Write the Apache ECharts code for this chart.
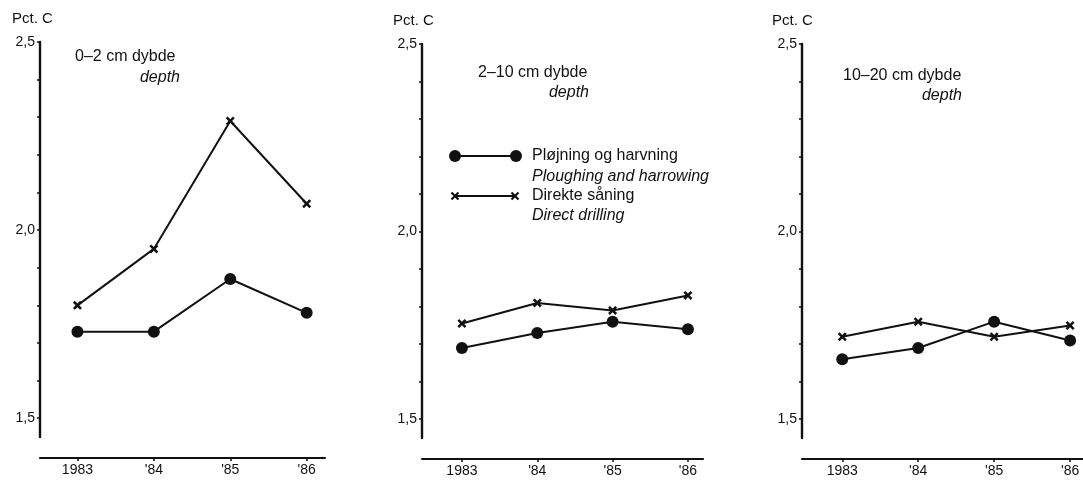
<!DOCTYPE html>
<html lang="da">
<head>
<meta charset="UTF-8">
<title>Pct. C</title>
<script src="https://cdn.jsdelivr.net/npm/echarts@6/dist/echarts.min.js"></script>
<style>
  html, body { margin: 0; padding: 0; background: #fff; }
  #main { width: 1083px; height: 483px; }
</style>
</head>
<body>
<div id="main"></div>
<script>
// data
var years = [1983, 1984, 1985, 1986];
var yearLabels = ['1983', "'84", "'85", "'86"];
var yLabels = [1.5, 2.0, 2.5];
var yTicks = [1.5, 1.6, 1.7, 1.8, 1.9, 2.0, 2.1, 2.2, 2.3, 2.4, 2.5];
var panelTitles = ['0\u20132 cm dybde', '2\u201310 cm dybde', '10\u201320 cm dybde'];

// Pløjning og harvning (dots)
var plough0_2 = [1.73, 1.73, 1.87, 1.78];
var plough2_10 = [1.69, 1.73, 1.76, 1.74];
var plough10_20 = [1.66, 1.69, 1.76, 1.71];
// Direkte såning (crosses)
var direct0_2 = [1.80, 1.95, 2.29, 2.07];
var direct2_10 = [1.755, 1.81, 1.79, 1.83];
var direct10_20 = [1.72, 1.76, 1.72, 1.75];

var ploughSets = [plough0_2, plough2_10, plough10_20];
var directSets = [direct0_2, direct2_10, direct10_20];

var ink = '#111';
var font = '"Liberation Sans", Arial, Helvetica, sans-serif';
var crossPath = 'path://M0,2 L2,0 L5,3 L8,0 L10,2 L7,5 L10,8 L8,10 L5,7 L2,10 L0,8 L3,5 Z';

// grid boxes (px)
var grids = [
  { left: 40, right: 758, top: 42, bottom: 46 },
  { left: 422, right: 380, top: 44, bottom: 45 },
  { left: 802, right: 0, top: 44, bottom: 45 }
];
var xRanges = [[1982.51, 1986.24], [1982.47, 1986.2], [1982.47, 1986.17]];

function pairs(arr) {
  return arr.map(function (v, i) { return [years[i], v]; });
}

var xAxes = [], yAxes = [], series = [];
for (var i = 0; i < 3; i++) {
  xAxes.push({
    type: 'value', gridIndex: i,
    min: xRanges[i][0], max: xRanges[i][1],
    offset: 21,
    splitLine: { show: false },
    axisLine: { lineStyle: { color: ink, width: 2.2 } },
    axisTick: { customValues: years, length: 3, lineStyle: { color: ink, width: 1.5 } },
    axisLabel: {
      customValues: years, color: ink, fontFamily: font, fontSize: 14, margin: 5,
      formatter: function (v) { return yearLabels[years.indexOf(Math.round(v))]; }
    }
  });
  yAxes.push({
    type: 'value', gridIndex: i,
    min: 1.45, max: 2.5,
    splitLine: { show: false },
    axisLine: { show: true, lineStyle: { color: ink, width: 2.4 } },
    axisTick: { customValues: yTicks, length: 3, lineStyle: { color: ink, width: 1.5 } },
    axisLabel: {
      customValues: yLabels, color: ink, fontFamily: font, fontSize: 14, margin: 5,
      formatter: function (v) { return v.toFixed(1).replace('.', ','); }
    }
  });
  series.push({
    name: 'Pløjning og harvning', type: 'line', xAxisIndex: i, yAxisIndex: i,
    data: pairs(ploughSets[i]),
    symbol: 'circle', symbolSize: 12,
    lineStyle: { color: ink, width: 2 },
    itemStyle: { color: ink },
    animation: false
  });
  series.push({
    name: 'Direkte såning', type: 'line', xAxisIndex: i, yAxisIndex: i,
    data: pairs(directSets[i]),
    symbol: crossPath, symbolSize: 9,
    lineStyle: { color: ink, width: 2 },
    itemStyle: { color: ink },
    animation: false
  });
}

function txtAt(x, y, s, opts) {
  opts = opts || {};
  return {
    type: 'text', x: x, y: y,
    style: {
      text: s, fill: ink,
      font: (opts.italic ? 'italic ' : '') + (opts.size || 16) + 'px ' + font,
      align: opts.align || 'left', verticalAlign: 'middle'
    }
  };
}
function crossMark(cx, cy) {
  return {
    type: 'group', children: [
      { type: 'line', shape: { x1: cx - 3.5, y1: cy - 3.5, x2: cx + 3.5, y2: cy + 3.5 }, style: { stroke: ink, lineWidth: 2.2 } },
      { type: 'line', shape: { x1: cx - 3.5, y1: cy + 3.5, x2: cx + 3.5, y2: cy - 3.5 }, style: { stroke: ink, lineWidth: 2.2 } }
    ]
  };
}

var graphics = [
  txtAt(12, 19, 'Pct. C', { size: 15 }),
  txtAt(393, 21, 'Pct. C', { size: 15 }),
  txtAt(772, 21, 'Pct. C', { size: 15 }),
  txtAt(75, 57, panelTitles[0]),
  txtAt(180, 78, 'depth', { italic: true, align: 'right' }),
  txtAt(478, 73, panelTitles[1]),
  txtAt(589, 93, 'depth', { italic: true, align: 'right' }),
  txtAt(843, 76, panelTitles[2]),
  txtAt(962, 96, 'depth', { italic: true, align: 'right' }),
  // legend
  { type: 'line', shape: { x1: 455, y1: 156, x2: 516, y2: 156 }, style: { stroke: ink, lineWidth: 2 } },
  { type: 'circle', shape: { cx: 455, cy: 156, r: 6 }, style: { fill: ink } },
  { type: 'circle', shape: { cx: 516, cy: 156, r: 6 }, style: { fill: ink } },
  { type: 'line', shape: { x1: 455, y1: 196, x2: 515, y2: 196 }, style: { stroke: ink, lineWidth: 2 } },
  crossMark(455, 196),
  crossMark(515, 196),
  txtAt(532, 156, 'Pløjning og harvning'),
  txtAt(532, 177, 'Ploughing and harrowing', { italic: true }),
  txtAt(532, 196, 'Direkte såning'),
  txtAt(532, 216, 'Direct drilling', { italic: true })
];

var chart = echarts.init(document.getElementById('main'));
chart.setOption({
  backgroundColor: '#fff',
  animation: false,
  grid: grids,
  xAxis: xAxes,
  yAxis: yAxes,
  series: series,
  graphic: graphics
});
</script>
</body>
</html>
